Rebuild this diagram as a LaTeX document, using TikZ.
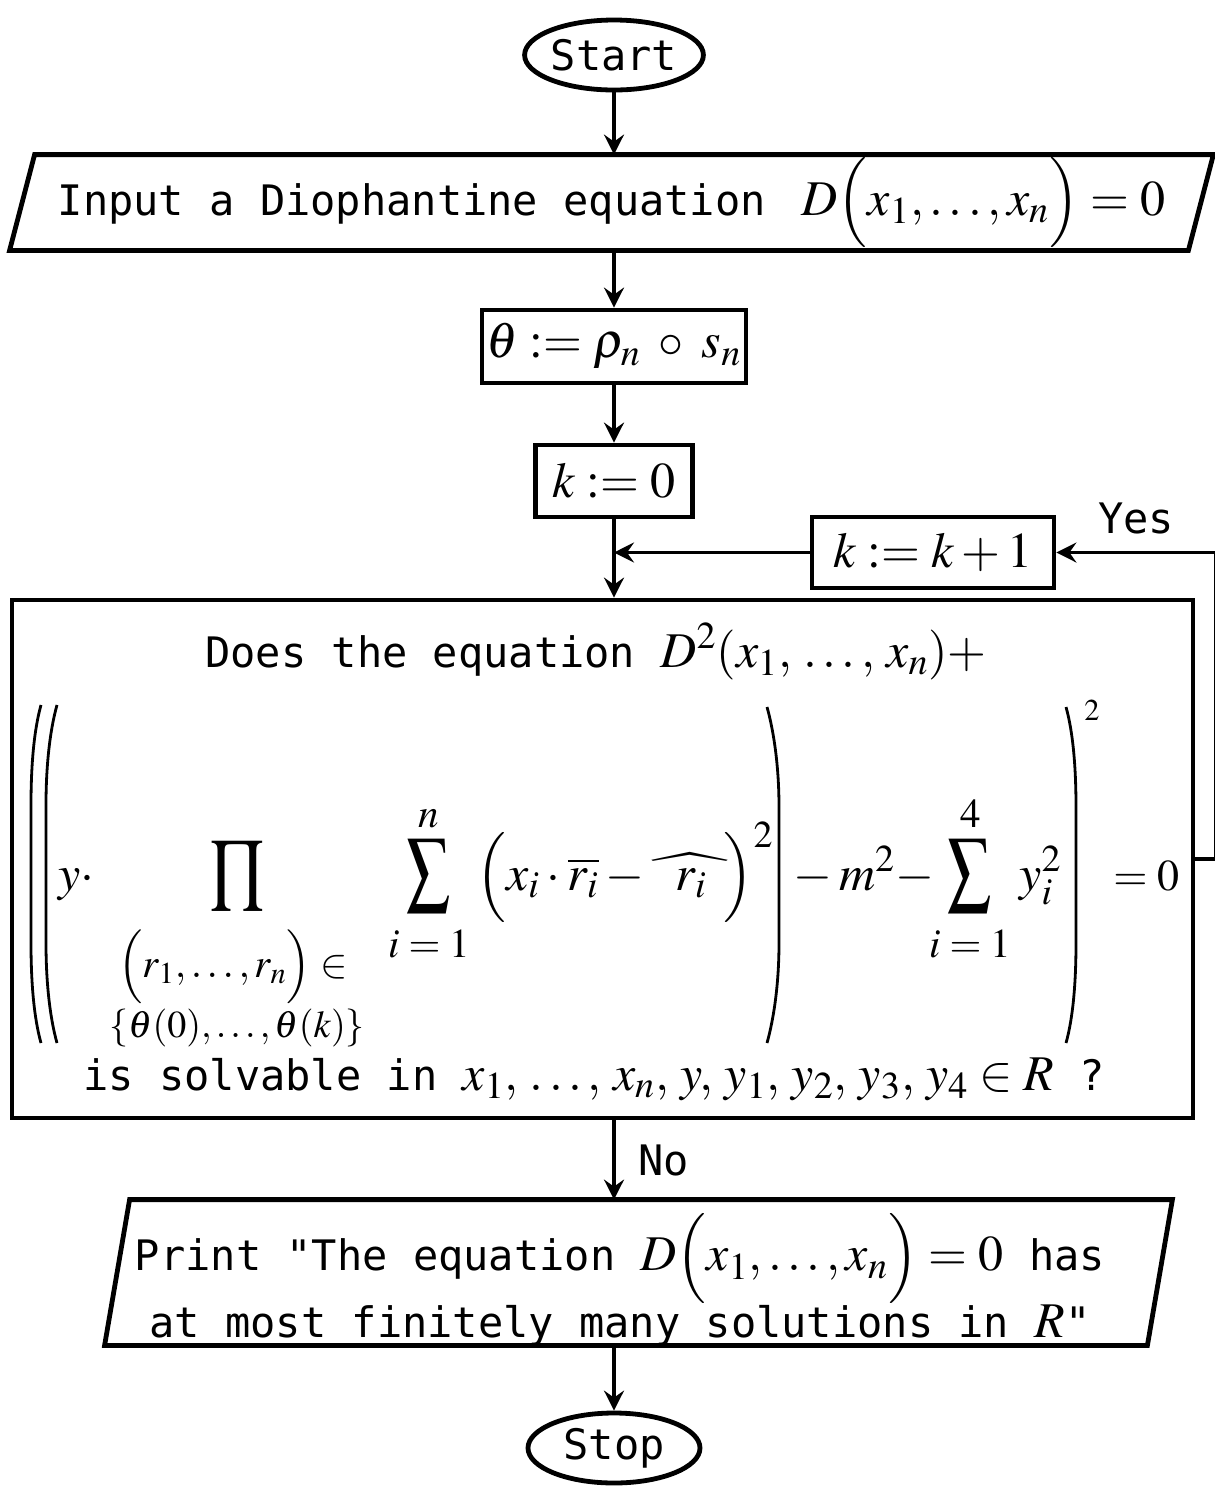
\documentclass[tikz,border=0pt]{standalone}
\usepackage{amsmath}
\usepackage{mathptmx}
\usepackage{graphicx}
\usepackage[no-math]{fontspec}
\setmonofont{DejaVu Sans Mono}
\renewcommand{\familydefault}{\ttdefault}
\DeclareMathSizes{21}{25}{19}{15}
\DeclareMathSizes{21.5}{22}{17}{13}
\usetikzlibrary{arrows.meta,shapes.geometric,calc}
\newcommand{\widehatri}{\;\rlap{\hspace{6.5pt}$r_i$}\scalebox{2.7}[1]{$\widehat{\phantom{r}}$}\,}
\begin{document}
\begin{tikzpicture}[x=0.5pt,y=-0.5pt, font=\fontsize{21}{25}\selectfont,
  frameline/.style={line width=2.4pt},
  box/.style={draw, line width=2.4pt, inner sep=0pt},
  term/.style={draw, ellipse, line width=2.4pt, inner sep=0pt, minimum width=86pt, minimum height=35pt},
  conn/.style={line width=1.8pt, -{Stealth[length=10pt,width=10pt,inset=3.5pt]}},
  bigparen/.style={line width=1.4pt},
  piece/.style={inner sep=0pt, anchor=base west},
  mid/.style={inner sep=0pt, anchor=base},
  small/.style={font=\fontsize{20.5}{25}\selectfont},
  mathmid/.style={font=\fontsize{21.5}{25}\selectfont},
]
\useasboundingbox (0,0) rectangle (1215,1490);

% terminals and boxes
\node[term] (start) at (614,55) {Start};
\node[inner sep=0pt, minimum width=601.5pt, minimum height=47.5pt] (input) at (611.5,202.5)
  {Input a Diophantine equation\hspace{18pt}$D\Bigl(x_1,\ldots,x_n\Bigr) = 0$};
\draw[frameline] ($(input.north west)+(25,0)$) -- (input.north east)
  -- ($(input.south east)+(-25,0)$) -- (input.south west) -- cycle;
\node[box, minimum width=132pt, minimum height=36.5pt] (theta) at (614,346.5) {$\theta := \rho_n \;\circ\; s_n$};
\node[box, minimum width=78.5pt, minimum height=36pt] (k0) at (614,481) {$k := 0$};
\node[box, minimum width=121pt, minimum height=35.5pt] (kk) at (933,552.5) {$k := k + 1$};
\node[box, minimum width=590.5pt, minimum height=259pt] (big) at (602.5,859) {};
\node[inner sep=0pt, minimum width=533.5pt, minimum height=72.5pt] (print) at (638.5,1272.5) {};
\draw[frameline] ($(print.north west)+(25,0)$) -- (print.north east)
  -- ($(print.south east)+(-25,0)$) -- (print.south west) -- cycle;
\node[inner sep=0pt, align=center, font=\fontsize{21}{30}\selectfont] (printtext) at (620,1280)
  {Print "The equation $D\Bigl(x_1,\ldots,x_n\Bigr) = 0$ has\\at most finitely many solutions in $R$"};
\node[term] (stop) at (614,1448) {Stop};

% contents of the decision box
\node[piece] (line1) at (205,667) {Does the equation $D^2(x_1,\,\ldots,\,x_n)+$};
\draw[bigparen] (41,705) .. controls (34,730) and (31,765) .. (31,805) -- (31,943) .. controls (31,983) and (34,1018) .. (41,1043);
\draw[bigparen] (57,705) .. controls (50,730) and (46,765) .. (46,805) -- (46,943) .. controls (46,983) and (50,1018) .. (57,1043);
\draw[bigparen] (767,707) .. controls (774,732) and (779,767) .. (779,807) -- (779,943) .. controls (779,983) and (774,1018) .. (767,1043);
\draw[bigparen] (1066,707) .. controls (1073,732) and (1076,767) .. (1076,807) -- (1076,943) .. controls (1076,983) and (1073,1018) .. (1066,1043);
\node[piece] (ydot) at (58,890) {$y\cdot$};
\node[inner sep=0pt, small] (prod) at (237,875) {\scalebox{1.1}[1.36]{$\displaystyle\prod$}};
\node[piece, small] (prodlo1) at (118,977) {$\Bigl(r_1,\ldots,r_n\Bigr)\in$};
\node[piece, font=\fontsize{19}{23}\selectfont] (prodlo2) at (109,1037) {$\{\theta(0),\ldots,\theta(k)\}$};
\node[inner sep=0pt, small] (sum1) at (429,876) {\scalebox{1.05}[1.45]{$\displaystyle\sum$}};
\node[mid, small] (sum1up) at (429,827) {$n$};
\node[mid, small] (sum1lo) at (429,957) {$i = 1$};
\node[piece] (term1) at (476,890) {$\Bigl(x_i\cdot\overline{r_i} - \widehatri\Bigr)^2$};
\node[piece] (term2) at (786,890) {${}-m^2-$};
\node[inner sep=0pt, small] (sum2) at (970,876) {\scalebox{1.05}[1.45]{$\displaystyle\sum$}};
\node[mid, small] (sum2up) at (971,827) {$4$};
\node[mid, small] (sum2lo) at (970,957) {$i = 1$};
\node[piece] (yi) at (1019,890) {$y_i^2$};
\node[mid, small] (sq) at (1092,720) {$\scriptstyle 2$};
\node[piece, mathmid] (eq0) at (1113,890) {$= 0$};
\node[piece] (line3) at (83,1090) {is solvable in $x_1,\,\ldots,\,x_n,\,y,\,y_1,\,y_2,\,y_3,\,y_4\in R$ ?};

% connectors
\draw[conn] (start.south) -- (start.south |- input.north);
\draw[conn] (start.south |- input.south) -- (theta.north);
\draw[conn] (theta.south) -- (k0.north);
\draw[conn] (k0.south) -- (k0.south |- big.north);
\coordinate (join) at (k0.south |- kk.west);
\draw[conn] (kk.west) -- (join);
\path (kk.east) ++(159,0) coordinate (loopR);
\draw[conn] (big.east) -| (loopR) -- (kk.east);
\node (yes) at (1136,518) {Yes};
\draw[conn] (start.south |- big.south) -- (start.south |- print.north)
  node[midway, right=8pt] (no) {No};
\draw[conn] (start.south |- print.south) -- (stop.north);
\end{tikzpicture}
\end{document}
